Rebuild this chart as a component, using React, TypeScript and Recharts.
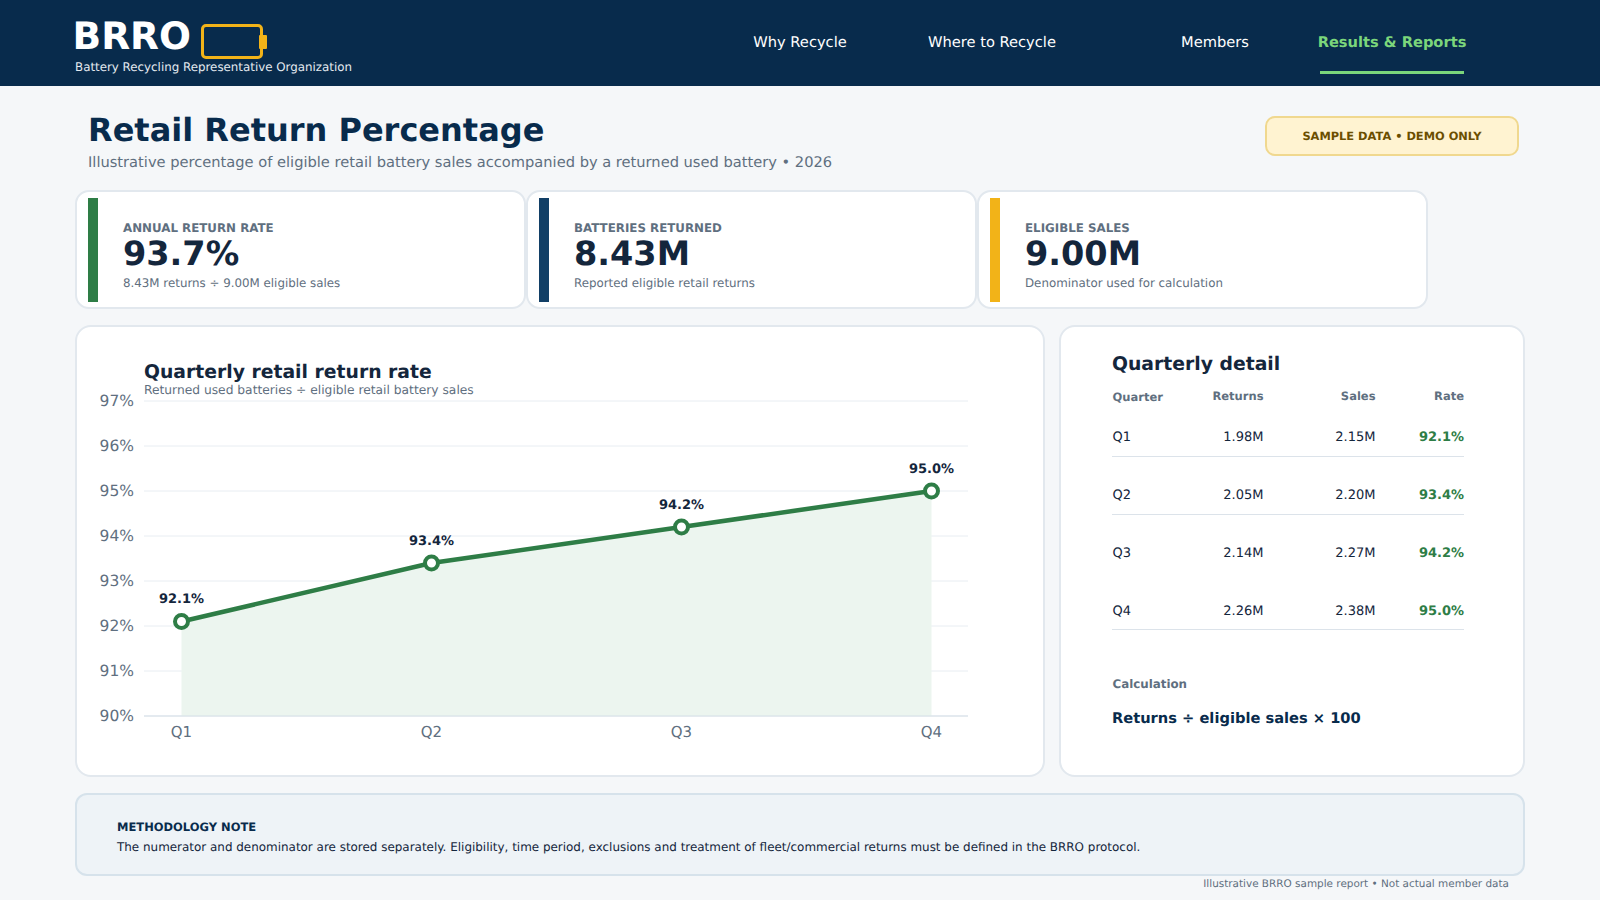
import { ComposedChart, Area, Line, XAxis, YAxis, CartesianGrid, LabelList } from "recharts";
import type { CSSProperties, ReactNode } from "react";

const quarters = ["Q1", "Q2", "Q3", "Q4"];
const rates = [92.1, 93.4, 94.2, 95.0];
const returnsM = ["1.98M", "2.05M", "2.14M", "2.26M"];
const salesM = ["2.15M", "2.20M", "2.27M", "2.38M"];
const rateTicks = [90, 91, 92, 93, 94, 95, 96, 97];
const navItems = [
  { label: "Why Recycle", cx: 800 },
  { label: "Where to Recycle", cx: 992 },
  { label: "Members", cx: 1215 },
];
const kpis = [
  { label: "ANNUAL RETURN RATE", value: "93.7%", note: "8.43M returns ÷ 9.00M eligible sales", color: "#2E7D46" },
  { label: "BATTERIES RETURNED", value: "8.43M", note: "Reported eligible retail returns", color: "#123F66" },
  { label: "ELIGIBLE SALES", value: "9.00M", note: "Denominator used for calculation", color: "#F2B318" },
];
const rowBaselines = [441, 499, 557, 615];
const rowRules = [456, 514, 629];

const NAVY = "#082B4C";
const INK = "#14263C";
const SLATE = "#5F6F80";
const GREEN = "#2E7D46";
const FONT = "'DejaVu Sans', sans-serif";

const chartData = quarters.map((q, i) => ({ quarter: q, rate: rates[i] }));

// x is the anchor, y the text baseline
function T(props: { x: number; y: number; size: number; color: string; bold?: boolean; align?: "left" | "right" | "center"; children: ReactNode }) {
  const { x, y, size, color, bold, align = "left", children } = props;
  const style: CSSProperties = {
    position: "absolute",
    top: y - 0.846 * size + 1,
    fontSize: size,
    lineHeight: 1,
    color,
    fontWeight: bold ? 700 : 400,
    whiteSpace: "nowrap",
  };
  if (align === "left") style.left = x;
  if (align === "right") style.right = 1600 - x;
  if (align === "center") {
    style.left = x - 300;
    style.width = 600;
    style.textAlign = "center";
  }
  return <div style={style}>{children}</div>;
}

function Box(props: { x: number; y: number; w: number; h: number; fill: string; border?: string; radius?: number; borderWidth?: number }) {
  const { x, y, w, h, fill, border, radius = 0, borderWidth = 2 } = props;
  return (
    <div
      style={{
        position: "absolute",
        left: x,
        top: y,
        width: w,
        height: h,
        boxSizing: "border-box",
        background: fill,
        border: border ? `${borderWidth}px solid ${border}` : undefined,
        borderRadius: radius,
      }}
    />
  );
}

export default function App() {
  return (
    <div style={{ position: "fixed", left: 0, top: 0, width: 1600, height: 900, background: "#F5F7F9", fontFamily: FONT, overflow: "hidden", textRendering: "geometricPrecision" }}>
      <Box x={0} y={0} w={1600} h={86} fill={NAVY} />
      <T x={72.5} y={49} size={37.6} color="#FFFFFF" bold>BRRO</T>
      <T x={75} y={71.5} size={11.85} color="#E4EAF0">Battery Recycling Representative Organization</T>
      <Box x={201} y={24} w={62} h={35} fill="transparent" border="#F2B318" borderWidth={3} radius={5} />
      <Box x={259} y={35} w={8} h={14} fill="#F2B318" radius={1} />
      {navItems.map((n) => (
        <T key={n.label} x={n.cx} y={47} size={14.65} color="#FFFFFF" align="center">{n.label}</T>
      ))}
      <T x={1392} y={47} size={14.65} color="#7BD67B" bold align="center">Results &amp; Reports</T>
      <Box x={1320} y={71} w={144} h={3} fill="#7BD67B" />

      <T x={88} y={140} size={32} color={NAVY} bold>Retail Return Percentage</T>
      <T x={88} y={167} size={14.65} color={SLATE}>Illustrative percentage of eligible retail battery sales accompanied by a returned used battery • 2026</T>
      <Box x={1265} y={116} w={254} h={40} fill="#FFF3D1" border="#F0D88F" radius={10} />
      <T x={1392} y={140} size={11.4} color="#6B4E00" bold align="center">SAMPLE DATA • DEMO ONLY</T>

      {kpis.map((k, i) => {
        const left = 75 + i * 451;
        return (
          <div key={k.label}>
            <Box x={left} y={190} w={451} h={119} fill="#FFFFFF" border="#E2E8EE" radius={14} />
            <Box x={left + 13} y={198} w={10} h={104} fill={k.color} />
            <T x={left + 48} y={232} size={11.85} color={SLATE} bold>{k.label}</T>
            <T x={left + 48} y={264.5} size={33.5} color={INK} bold>{k.value}</T>
            <T x={left + 48} y={287} size={11.85} color={SLATE}>{k.note}</T>
          </div>
        );
      })}

      <Box x={75} y={325} w={970} h={452} fill="#FFFFFF" border="#E2E8EE" radius={16} />
      <T x={144} y={379} size={18.8} color={INK} bold>Quarterly retail return rate</T>
      <T x={144} y={393} size={12.27} color={SLATE}>Returned used batteries ÷ eligible retail battery sales</T>

      <div style={{ position: "absolute", left: 76, top: 391 }}>
        <ComposedChart width={950} height={370} data={chartData} margin={{ top: 10, right: 58, bottom: 15, left: 0 }}>
          <CartesianGrid vertical={false} stroke="#E8EDF2" strokeWidth={1} />
          <XAxis
            dataKey="quarter"
            height={30}
            tickLine={false}
            tickMargin={4}
            padding={{ left: 37.5, right: 36.5 }}
            axisLine={{ stroke: "#D5DEE6", strokeWidth: 1 }}
            tick={{ fontSize: 15, fill: SLATE, fontFamily: FONT }}
          />
          <YAxis
            domain={[90, 97]}
            ticks={rateTicks}
            width={68}
            tickLine={false}
            axisLine={false}
            tickMargin={4}
            tickFormatter={(v: number) => `${v}%`}
            tick={{ fontSize: 15.5, fill: SLATE, fontFamily: FONT, dy: -0.5 }}
          />
          <Area dataKey="rate" type="linear" stroke="none" fill="#ECF5EF" fillOpacity={1} isAnimationActive={false} />
          <Line
            dataKey="rate"
            type="linear"
            stroke={GREEN}
            strokeWidth={4.5}
            dot={{ r: 6.5, fill: "#FFFFFF", stroke: GREEN, strokeWidth: 4 }}
            isAnimationActive={false}
          >
            <LabelList
              dataKey="rate"
              position="top"
              offset={18.5}
              formatter={(v: number) => `${v.toFixed(1)}%`}
              style={{ fontSize: 13, fontWeight: 700, fill: INK, fontFamily: FONT }}
            />
          </Line>
        </ComposedChart>
      </div>

      <Box x={1059} y={325} w={466} h={452} fill="#FFFFFF" border="#E2E8EE" radius={16} />
      <T x={1112} y={370.5} size={18.8} color={INK} bold>Quarterly detail</T>
      <T x={1112.5} y={401} size={11.5} color={SLATE} bold>Quarter</T>
      <T x={1263.5} y={400} size={11.5} color={SLATE} bold align="right">Returns</T>
      <T x={1375.5} y={400} size={11.5} color={SLATE} bold align="right">Sales</T>
      <T x={1464} y={400} size={11.5} color={SLATE} bold align="right">Rate</T>
      {quarters.map((q, i) => (
        <div key={q}>
          <T x={1112.5} y={rowBaselines[i]} size={13} color={INK}>{q}</T>
          <T x={1263.5} y={rowBaselines[i]} size={13} color={INK} align="right">{returnsM[i]}</T>
          <T x={1375.5} y={rowBaselines[i]} size={13} color={INK} align="right">{salesM[i]}</T>
          <T x={1464} y={rowBaselines[i]} size={13} color={GREEN} bold align="right">{rates[i].toFixed(1)}%</T>
        </div>
      ))}
      {rowRules.map((y) => (
        <Box key={y} x={1112} y={y} w={352} h={1} fill="#DCE3EA" />
      ))}
      <T x={1112.5} y={688} size={11.85} color={SLATE} bold>Calculation</T>
      <T x={1112} y={723} size={14.65} color={NAVY} bold>Returns ÷ eligible sales × 100</T>

      <Box x={75} y={793} w={1450} h={83} fill="#EEF3F7" border="#D6E2EB" radius={12} />
      <T x={117} y={831} size={11.5} color={NAVY} bold>METHODOLOGY NOTE</T>
      <T x={117} y={851} size={11.94} color={INK}>The numerator and denominator are stored separately. Eligibility, time period, exclusions and treatment of fleet/commercial returns must be defined in the BRRO protocol.</T>
      <T x={1509} y={887} size={10.45} color={SLATE} align="right">Illustrative BRRO sample report • Not actual member data</T>
    </div>
  );
}
